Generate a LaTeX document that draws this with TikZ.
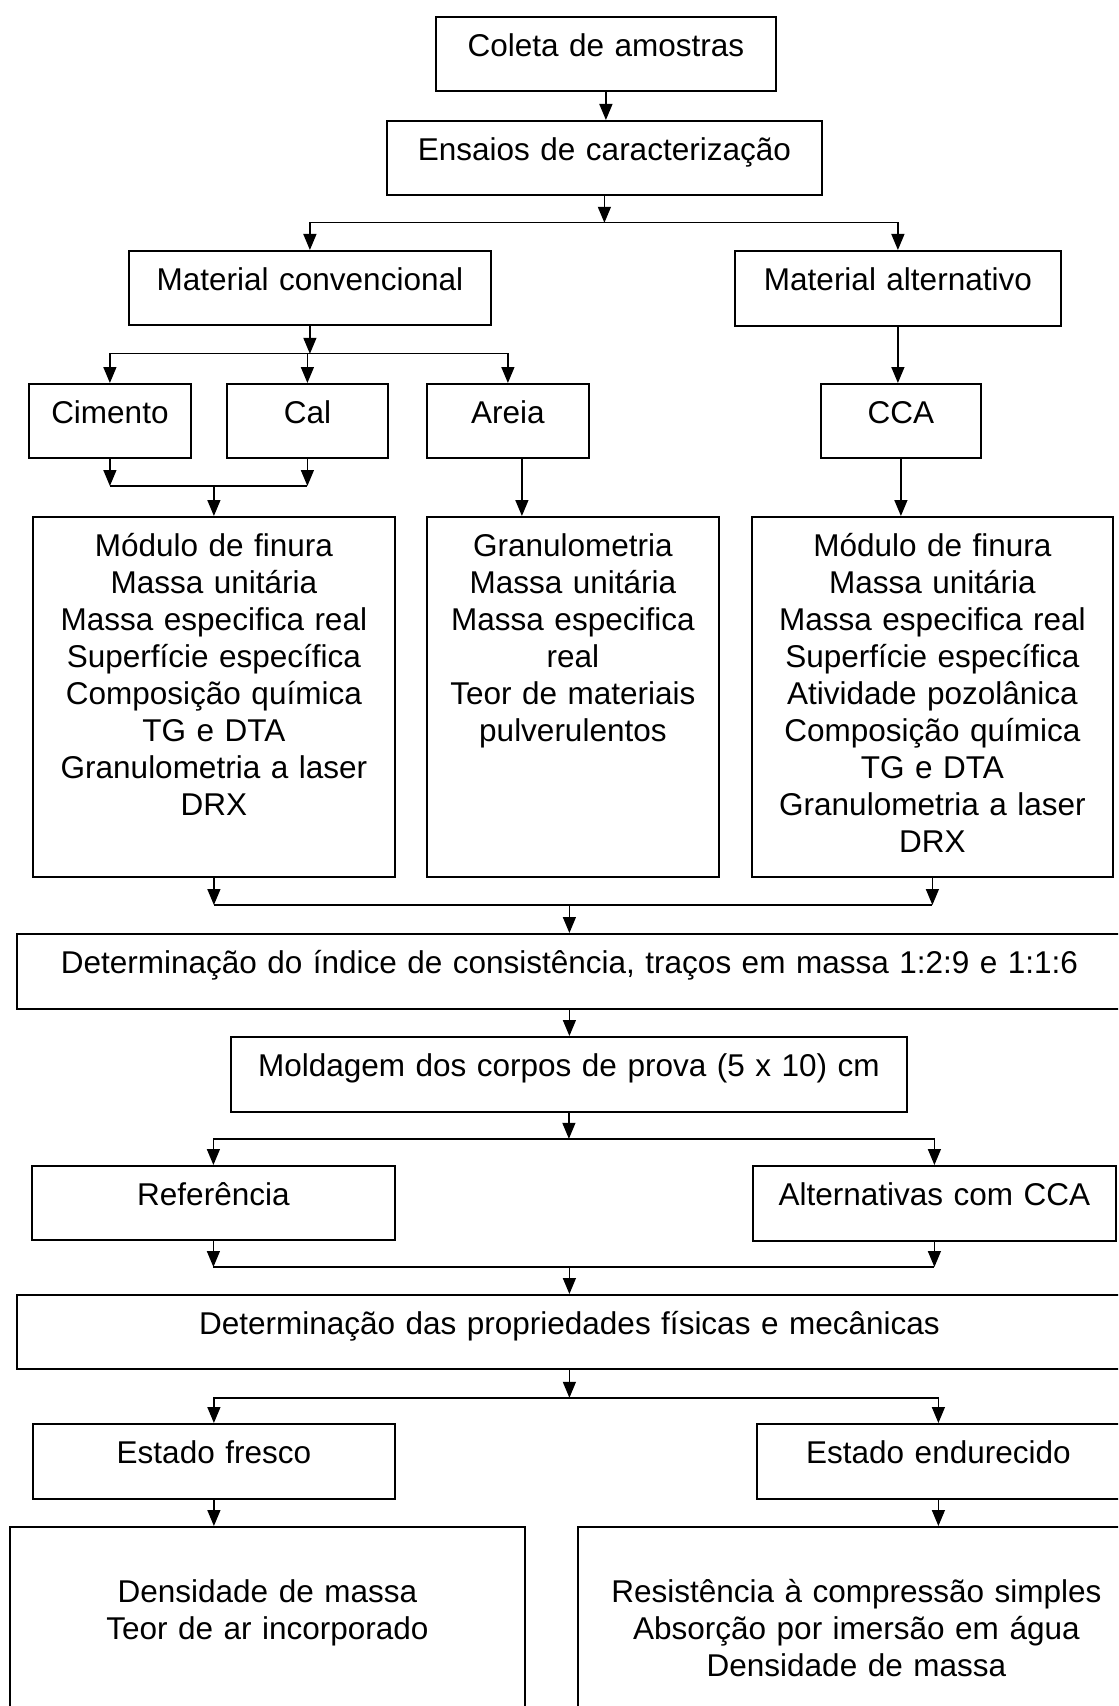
\documentclass[tikz,border=0pt]{standalone}
\usepackage{fontspec}
\setmainfont{Liberation Sans}
\usetikzlibrary{positioning,arrows.meta,calc}

\begin{document}
\begin{tikzpicture}[
      x=0.5pt, y=-0.5pt,
      caixa/.style={
        draw,
        line width=0.9pt,
        anchor=north west,
        inner sep=0pt,
        align=center,
        text width=#1,
        text height=20pt,
        font=\fontsize{15.75}{18.5}\selectfont
      },
      arr/.style={
        -{Triangle[length=8pt,width=6.5pt]},
        line width=0.7pt
      },
      lig/.style={
        line width=0.7pt
      }
    ]
    \fill[white] (0,0) rectangle (1118,1706);
    \path[use as bounding box] (0,0) rectangle (1118,1706);
    \clip (0,0) rectangle (1118,1706);

    % caixas
    \node[caixa=170pt, text depth=17pt] (coleta) at (435,16) {Coleta de amostras};
    \node[caixa=217.5pt, text depth=17pt] (ensaios) at (386,120) {Ensaios de caracterização};
    \node[caixa=181pt, text depth=17pt] (conv) at (128,250) {Material convencional};
    \node[caixa=163pt, text depth=17.5pt] (alt) at (734,250) {Material alternativo};

    \node[caixa=81pt, text depth=17pt] (cimento) at (28,383) {Cimento};
    \node[caixa=80.5pt, text depth=17pt] (cal) at (226,383) {Cal};
    \node[caixa=81pt, text depth=17pt] (areia) at (426,383) {Areia};
    \node[caixa=80pt, text depth=17pt] (cca) at (820,383) {CCA};

    \node[caixa=181pt, text depth=160pt] (ensconv) at (32,516)
      {Módulo de finura\\Massa unitária\\Massa especifica real\\Superfície específica\\Composição química\\TG e DTA\\Granulometria a laser\\DRX};
    \node[caixa=146pt, text depth=160pt] (ensareia) at (426,516)
      {Granulometria\\Massa unitária\\Massa especifica\\real\\Teor de materiais\\pulverulentos};
    \node[caixa=180.5pt, text depth=160pt] (ensalt) at (751,516)
      {Módulo de finura\\Massa unitária\\Massa especifica real\\Superfície específica\\Atividade pozolânica\\Composição química\\TG e DTA\\Granulometria a laser\\DRX};

    \node[caixa=552.5pt, text depth=17.5pt] (consist) at (16,933)
      {Determinação do índice de consistência, traços em massa 1:2:9 e 1:1:6};
    \node[caixa=338pt, text depth=17.5pt] (molde) at (230,1036) {Moldagem dos corpos de prova (5 x 10) cm};
    \node[caixa=181.5pt, text depth=17pt] (refer) at (31,1165) {Referência};
    \node[caixa=181.5pt, text depth=17.5pt] (altcca) at (752,1165) {Alternativas com CCA};
    \node[caixa=552.5pt, text depth=17pt] (propr) at (16,1294) {Determinação das propriedades físicas e mecânicas};
    \node[caixa=181pt, text depth=17.5pt] (fresco) at (32,1423) {Estado fresco};
    \node[caixa=181.5pt, text depth=17.5pt] (endur) at (756,1423) {Estado endurecido};

    \node[caixa=257.5pt, text height=38pt, text depth=62pt] (tfresco) at (9,1526)
      {Densidade de massa\\Teor de ar incorporado};
    \node[caixa=278.5pt, text height=38pt, text depth=62pt] (tendur) at (577,1526)
      {Resistência à compressão simples\\Absorção por imersão em água\\Densidade de massa};

    % pontos de ramificacao
    \coordinate (j1) at ($(ensaios.south)+(0,27)$);
    \coordinate (j2) at ($(conv.south)+(0,28)$);
    \coordinate (j3) at ($(ensconv.north)+(0,-30)$);
    \coordinate (j4) at ($(consist.north)+(0,-28)$);
    \coordinate (j5) at ($(molde.south)+(0,26)$);
    \coordinate (j6) at ($(propr.north)+(0,-27)$);
    \coordinate (j7) at ($(propr.south)+(0,28)$);

    % setas
    \draw[arr] (coleta.south) -- (coleta.south |- ensaios.north);
    \draw[arr] (ensaios.south) -- (j1);
    \draw[arr] (j1) -| (conv.north);
    \draw[arr] (j1) -| (alt.north);

    \draw[arr] (conv.south) -- (j2);
    \draw[arr] (j2) -| (cimento.north);
    \draw[arr] (j2) -| (cal.north);
    \draw[arr] (j2) -| (areia.north);
    \draw[arr] (alt.south) -- (alt.south |- cca.north);

    \draw[arr] (cimento.south) -- (cimento.south |- j3);
    \draw[arr] (cal.south) -- (cal.south |- j3);
    \draw[lig] (cimento.south |- j3) -- (cal.south |- j3);
    \draw[arr] (j3) -- (ensconv.north);
    \draw[arr] ([xshift=7pt]areia.south) -- ([xshift=7pt]areia.south |- ensareia.north);
    \draw[arr] (cca.south) -- (cca.south |- ensalt.north);

    \draw[arr] (ensconv.south) -- (ensconv.south |- j4);
    \draw[arr] (ensalt.south) -- (ensalt.south |- j4);
    \draw[lig] (ensconv.south |- j4) -- (ensalt.south |- j4);
    \draw[arr] (j4) -- (consist.north);

    \draw[arr] (consist.south) -- (consist.south |- molde.north);
    \draw[arr] (molde.south) -- (j5);
    \draw[arr] (j5) -| (refer.north);
    \draw[arr] (j5) -| (altcca.north);

    \draw[arr] (refer.south) -- (refer.south |- j6);
    \draw[arr] (altcca.south) -- (altcca.south |- j6);
    \draw[lig] (refer.south |- j6) -- (altcca.south |- j6);
    \draw[arr] (j6) -- (propr.north);

    \draw[arr] (propr.south) -- (j7);
    \draw[arr] (j7) -| (fresco.north);
    \draw[arr] (j7) -| (endur.north);
    \draw[arr] (fresco.south) -- (fresco.south |- tfresco.north);
    \draw[arr] (endur.south) -- (endur.south |- tendur.north);
  \end{tikzpicture}
\end{document}
